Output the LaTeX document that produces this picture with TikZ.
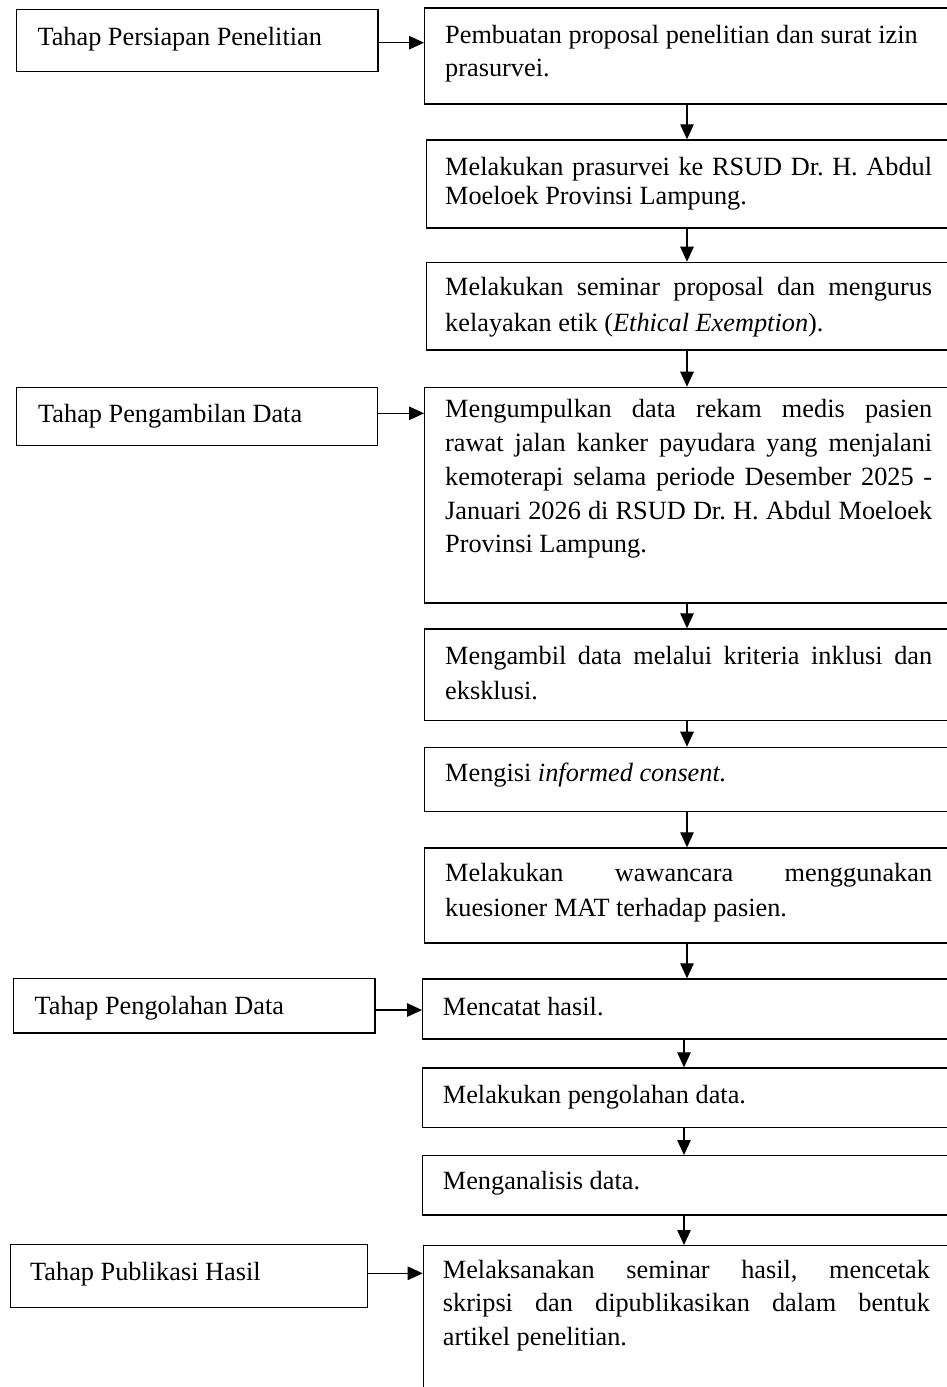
\documentclass[tikz,border=0pt]{standalone}
\usepackage{fontspec}
\setmainfont{Liberation Serif}
\usetikzlibrary{arrows.meta}
\frenchspacing
\tolerance=9999
\hbadness=10000
\hyphenpenalty=10000
\exhyphenpenalty=10000
\begin{document}
\begin{tikzpicture}[x=1pt,y=-1pt,
  box/.style={draw=black, line width=1.2pt, inner sep=0pt, rectangle, anchor=north west},
  lab/.style={inner sep=0pt, anchor=base west, font=\fontsize{26.3}{33}\selectfont},
  jtxt/.style={inner sep=0pt, anchor=base west, text width=487pt, align=justify,
    font=\fontsize{26.3}{#1}\selectfont},
  arr/.style={line width=1.2pt, -{Triangle[length=15pt,width=13.5pt]}}]
\useasboundingbox (0,0) rectangle (947,1387);
\fill[white] (0,0) rectangle (947,1387);
\clip (0,0) rectangle (947,1387);

% left stage boxes
\node[box, minimum width=361.7pt, minimum height=61.7pt] (l1) at (15.7,9) {};
\node[box, minimum width=361pt, minimum height=58.3pt] (l2) at (16,386.7) {};
\node[box, minimum width=361.4pt, minimum height=54.3pt] (l3) at (13,978) {};
\node[box, minimum width=357pt, minimum height=63pt] (l4) at (10,1244) {};
\node[lab] (tl1) at (37.3,45) {Tahap Persiapan Penelitian};
\node[lab] (tl2) at (38,422.7) {Tahap Pengambilan Data};
\node[lab] (tl3) at (34.4,1014.3) {Tahap Pengolahan Data};
\node[lab] (tl4) at (30,1280) {Tahap Publikasi Hasil};

% right step boxes
\node[box, minimum width=526pt, minimum height=96pt] (r1) at (424,7.3) {};
\node[box, minimum width=524pt, minimum height=88pt] (r2) at (426,139.3) {};
\node[box, minimum width=524pt, minimum height=87.6pt] (r3) at (426,261.7) {};
\node[box, minimum width=526pt, minimum height=215.6pt] (r4) at (424,386.7) {};
\node[box, minimum width=526pt, minimum height=91.7pt] (r5) at (424,628.3) {};
\node[box, minimum width=526pt, minimum height=64pt] (r6) at (424,746.7) {};
\node[box, minimum width=526pt, minimum height=95pt] (r7) at (424,847.3) {};
\node[box, minimum width=528pt, minimum height=60pt] (r8) at (422,978.3) {};
\node[box, minimum width=528pt, minimum height=59.4pt] (r9) at (422,1067.3) {};
\node[box, minimum width=528pt, minimum height=59.3pt] (r10) at (422,1155) {};
\node[box, minimum width=528pt, minimum height=200pt] (r11) at (422.7,1245) {};

% texts
\node[jtxt=32.7pt] (t1) at (445,43.3) {Pembuatan proposal penelitian dan surat izin\hfill\break prasurvei.};
\node[jtxt=28.7pt] (t2) at (445,175.5) {Melakukan prasurvei ke RSUD Dr. H. Abdul\linebreak Moeloek Provinsi Lampung.};
\node[jtxt=36pt] (t3) at (445,295.7) {Melakukan seminar proposal dan mengurus\linebreak kelayakan etik (\textit{Ethical Exemption}).};
\node[jtxt=33.8pt] (t4) at (445,417.7) {Mengumpulkan data rekam medis pasien\linebreak rawat jalan kanker payudara yang menjalani\linebreak kemoterapi selama periode Desember 2025 -\linebreak Januari 2026 di RSUD Dr. H. Abdul Moeloek\linebreak Provinsi Lampung.};
\node[jtxt=34.7pt] (t5) at (445,664.3) {Mengambil data melalui kriteria inklusi dan\linebreak eksklusi.};
\node[jtxt=33pt] (t6) at (445,781.7) {Mengisi \textit{informed consent.}};
\node[jtxt=35pt] (t7) at (445,881.7) {Melakukan wawancara menggunakan\linebreak kuesioner MAT terhadap pasien.};
\node[jtxt=33pt] (t8) at (442.7,1015) {Mencatat hasil.};
\node[jtxt=33pt] (t9) at (442.7,1103.3) {Melakukan pengolahan data.};
\node[jtxt=33pt] (t10) at (442.7,1189.3) {Menganalisis data.};
\node[jtxt=33.4pt] (t11) at (442.7,1278.3) {Melaksanakan seminar hasil, mencetak\linebreak skripsi dan dipublikasikan dalam bentuk\linebreak artikel penelitian.};

% arrow columns and rows
\coordinate (colA) at (687,0);
\coordinate (colB) at (684,0);
\coordinate (h1) at (0,42.7);
\coordinate (h2) at (0,413.3);
\coordinate (h3) at (0,1010);
\coordinate (h4) at (0,1273.3);

% horizontal arrows
\draw[arr] (l1.east |- h1) -- (r1.west |- h1);
\draw[arr] (l2.east |- h2) -- (r4.west |- h2);
\draw[arr] (l3.east |- h3) -- (r8.west |- h3);
\draw[arr] (l4.east |- h4) -- (r11.west |- h4);

% vertical arrows
\draw[arr] (r1.south -| colA) -- (r2.north -| colA);
\draw[arr] (r2.south -| colA) -- (r3.north -| colA);
\draw[arr] (r3.south -| colA) -- (r4.north -| colA);
\draw[arr] (r4.south -| colA) -- (r5.north -| colA);
\draw[arr] (r5.south -| colA) -- (r6.north -| colA);
\draw[arr] (r6.south -| colA) -- (r7.north -| colA);
\draw[arr] (r7.south -| colA) -- (r8.north -| colA);
\draw[arr] (r8.south -| colB) -- (r9.north -| colB);
\draw[arr] (r9.south -| colB) -- (r10.north -| colB);
\draw[arr] (r10.south -| colB) -- (r11.north -| colB);
\end{tikzpicture}
\end{document}
